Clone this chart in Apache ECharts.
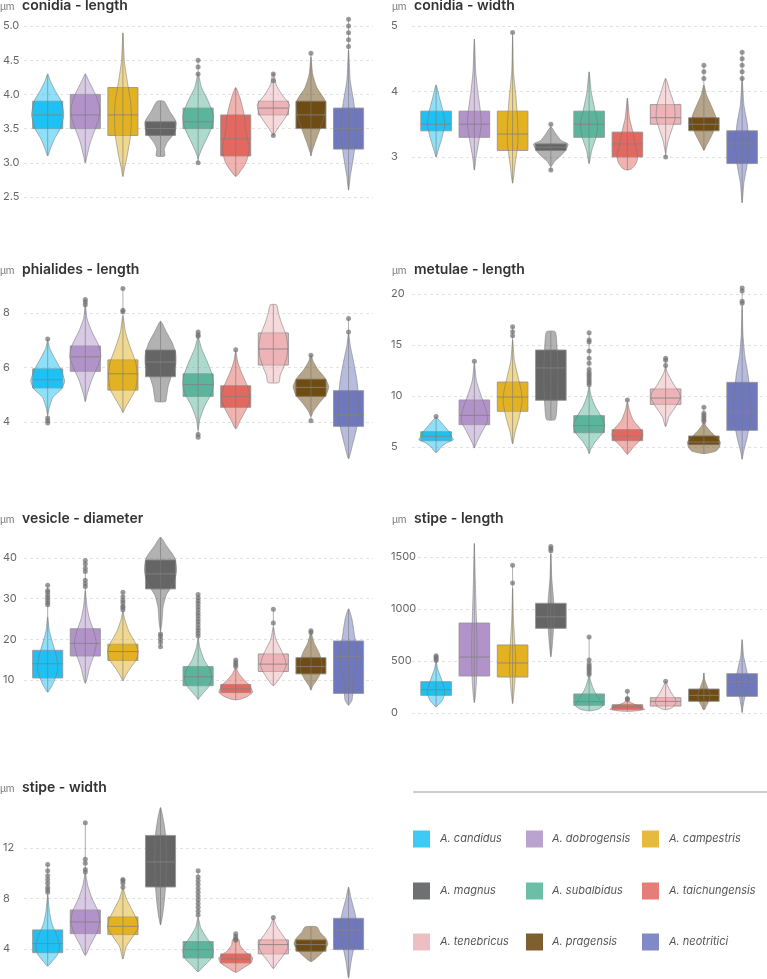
<!DOCTYPE html>
<html>
<head>
<meta charset="utf-8">
<script src="https://cdn.jsdelivr.net/npm/echarts@6/dist/echarts.min.js"></script>
<style>
  html, body { margin: 0; padding: 0; background: #fff; }
  #chart { width: 767px; height: 979px; }
</style>
</head>
<body>
<div id="chart"></div>
<script>
// species and colours
const species = ['A. candidus', 'A. dobrogensis', 'A. campestris', 'A. magnus', 'A. subalbidus',
  'A. taichungensis', 'A. tenebricus', 'A. pragensis', 'A. neotritici'];
const boxColors = ['#1ec1f3', '#b293c9', '#e3b223', '#656565', '#5ab59c', '#e26860', '#edb3b7', '#6e4c14', '#6f78bd'];
const legendColors = ['#3fcaf5', '#bba3d0', '#e6ba3c', '#6f7072', '#6cbfa6', '#e57d78', '#eebfc2', '#7e5f2f', '#808ac6'];

// box = [q1, median, q3]; violin = [value, relative width]; outliers = values
// conidia - length
const clBox = [[3.5, 3.7, 3.9], [3.5, 3.7, 4.0], [3.4, 3.7, 4.1], [3.4, 3.5, 3.6], [3.5, 3.6, 3.8],
  [3.1, 3.35, 3.7], [3.7, 3.8, 3.9], [3.5, 3.7, 3.9], [3.2, 3.5, 3.8]];
const clViolin = [
  [[4.3, 0], [4.2, 0.15], [4.05, 0.45], [3.9, 0.8], [3.7, 0.95], [3.5, 0.75], [3.35, 0.4], [3.2, 0.15], [3.1, 0]],
  [[4.3, 0], [4.2, 0.2], [4.0, 0.6], [3.8, 0.85], [3.65, 0.8], [3.5, 0.6], [3.3, 0.3], [3.1, 0.1], [3.0, 0]],
  [[4.9, 0], [4.5, 0.08], [4.2, 0.25], [3.9, 0.45], [3.7, 0.5], [3.4, 0.45], [3.1, 0.25], [2.9, 0.08], [2.8, 0]],
  [[3.9, 0.2], [3.75, 0.55], [3.6, 0.92], [3.45, 0.85], [3.3, 0.4], [3.2, 0.22], [3.1, 0.25]],
  [[4.3, 0], [4.1, 0.2], [3.9, 0.6], [3.7, 0.9], [3.55, 0.85], [3.4, 0.6], [3.25, 0.3], [3.1, 0.05], [3.05, 0]],
  [[4.1, 0], [3.95, 0.25], [3.7, 0.5], [3.45, 0.6], [3.2, 0.8], [3.0, 0.6], [2.85, 0.2], [2.8, 0]],
  [[4.3, 0.05], [4.15, 0.15], [4.0, 0.5], [3.85, 0.95], [3.7, 0.8], [3.55, 0.4], [3.45, 0.12], [3.4, 0]],
  [[4.55, 0], [4.3, 0.1], [4.1, 0.35], [3.9, 0.85], [3.7, 0.8], [3.5, 0.55], [3.3, 0.25], [3.15, 0.05], [3.1, 0]],
  [[4.65, 0], [4.2, 0.1], [3.9, 0.3], [3.6, 0.45], [3.4, 0.45], [3.1, 0.3], [2.8, 0.1], [2.6, 0]]
];
const clOut = [[], [], [], [], [4.5, 4.4, 4.3, 3.0], [], [4.3, 4.2, 3.4], [4.6], [5.1, 5.0, 4.9, 4.8, 4.7]];

// conidia - width
const cwBox = [[3.4, 3.5, 3.7], [3.3, 3.5, 3.7], [3.1, 3.35, 3.7], [3.1, 3.15, 3.2], [3.3, 3.5, 3.7],
  [3.0, 3.2, 3.38], [3.5, 3.6, 3.8], [3.4, 3.5, 3.6], [2.9, 3.2, 3.4]];
const cwViolin = [
  [[4.1, 0], [3.9, 0.2], [3.7, 0.4], [3.5, 0.5], [3.3, 0.35], [3.1, 0.12], [3.0, 0]],
  [[4.8, 0], [4.3, 0.08], [4.0, 0.2], [3.7, 0.35], [3.5, 0.4], [3.3, 0.3], [3.0, 0.1], [2.8, 0]],
  [[4.85, 0], [4.3, 0.05], [3.9, 0.2], [3.5, 0.3], [3.2, 0.3], [2.9, 0.15], [2.6, 0]],
  [[3.45, 0.05], [3.35, 0.3], [3.25, 0.6], [3.2, 1.0], [3.1, 0.85], [3.0, 0.5], [2.93, 0.2], [2.85, 0]],
  [[4.3, 0], [4.0, 0.12], [3.7, 0.35], [3.5, 0.5], [3.3, 0.4], [3.1, 0.15], [2.9, 0]],
  [[3.9, 0], [3.6, 0.12], [3.4, 0.3], [3.2, 0.45], [3.0, 0.6], [2.9, 0.5], [2.82, 0.25], [2.8, 0]],
  [[4.2, 0], [4.0, 0.25], [3.8, 0.5], [3.6, 0.55], [3.45, 0.4], [3.25, 0.15], [3.1, 0.04], [3.05, 0]],
  [[4.1, 0], [3.95, 0.15], [3.8, 0.4], [3.6, 0.7], [3.45, 0.65], [3.3, 0.4], [3.15, 0.1], [3.1, 0]],
  [[4.2, 0], [3.8, 0.1], [3.5, 0.3], [3.2, 0.4], [2.9, 0.3], [2.6, 0.1], [2.3, 0]]
];
const cwOut = [[], [], [4.9], [3.5, 2.8], [], [], [3.0], [4.4, 4.3, 4.2], [4.6, 4.5, 4.4, 4.3, 4.2]];

// phialides - length
const phBox = [[5.25, 5.55, 5.95], [5.86, 6.39, 6.79], [5.17, 5.77, 6.28], [5.66, 6.2, 6.64], [4.94, 5.37, 5.77],
  [4.54, 4.94, 5.33], [6.09, 6.68, 7.27], [4.94, 5.27, 5.57], [3.84, 4.27, 5.15]];
const phViolin = [
  [[7.0, 0], [6.7, 0.12], [6.3, 0.45], [5.9, 0.8], [5.5, 1.0], [5.2, 0.8], [4.9, 0.3], [4.5, 0.08], [4.25, 0]],
  [[8.3, 0], [7.8, 0.1], [7.3, 0.4], [6.8, 0.8], [6.4, 0.92], [6.0, 0.7], [5.5, 0.35], [5.0, 0.1], [4.75, 0]],
  [[7.9, 0], [7.3, 0.15], [6.8, 0.4], [6.2, 0.75], [5.7, 0.85], [5.2, 0.75], [4.8, 0.4], [4.5, 0.12], [4.35, 0]],
  [[7.7, 0], [7.3, 0.35], [6.9, 0.7], [6.5, 0.9], [6.1, 0.9], [5.7, 0.65], [5.3, 0.45], [4.9, 0.35], [4.75, 0.3]],
  [[7.1, 0], [6.7, 0.2], [6.2, 0.55], [5.7, 0.85], [5.35, 0.9], [5.0, 0.75], [4.6, 0.4], [4.1, 0.1], [3.7, 0]],
  [[6.6, 0], [6.2, 0.12], [5.8, 0.35], [5.3, 0.7], [4.9, 0.85], [4.5, 0.65], [4.1, 0.3], [3.75, 0]],
  [[8.3, 0.18], [8.0, 0.3], [7.6, 0.5], [7.2, 0.75], [6.8, 0.85], [6.4, 0.8], [6.0, 0.6], [5.7, 0.4], [5.45, 0.33]],
  [[6.45, 0], [6.2, 0.15], [5.9, 0.45], [5.6, 0.85], [5.3, 1.05], [5.0, 0.9], [4.7, 0.5], [4.4, 0.15], [4.2, 0]],
  [[7.25, 0], [6.8, 0.1], [6.2, 0.3], [5.5, 0.5], [4.8, 0.6], [4.2, 0.6], [3.7, 0.45], [3.2, 0.25], [2.65, 0]]
];
const phOut = [[7.05, 4.15, 4.05, 3.96], [8.5, 8.4, 8.3], [8.9, 8.1, 8.05], [], [7.3, 7.2, 7.15, 3.54, 3.44],
  [6.65], [], [6.45, 4.05], [7.8, 7.3]];

// metulae - length
const meBox = [[5.62, 6.05, 6.5], [7.19, 8.1, 9.61], [8.5, 9.9, 11.37], [9.58, 12.75, 14.51], [6.4, 7.1, 8.07],
  [5.62, 6.08, 6.7], [9.18, 9.8, 10.69], [5.23, 5.49, 6.08], [6.63, 8.5, 11.34]];
const meViolin = [
  [[7.9, 0], [7.5, 0.25], [7.0, 0.5], [6.5, 0.75], [6.0, 0.9], [5.7, 1.0], [5.4, 0.6], [5.0, 0.3], [4.45, 0]],
  [[13.2, 0], [11.5, 0.12], [10.0, 0.4], [8.5, 0.7], [7.5, 0.75], [6.5, 0.45], [5.5, 0.15], [4.9, 0]],
  [[15.5, 0], [13.5, 0.1], [12.0, 0.3], [10.5, 0.5], [9.5, 0.55], [8.0, 0.4], [6.5, 0.15], [5.3, 0]],
  [[16.3, 0.25], [15.0, 0.35], [13.0, 0.4], [11.0, 0.4], [9.0, 0.35], [7.7, 0.25]],
  [[10.9, 0], [10.0, 0.12], [9.0, 0.35], [8.0, 0.7], [7.1, 0.9], [6.3, 0.75], [5.5, 0.35], [4.8, 0.1], [4.35, 0]],
  [[9.4, 0], [8.6, 0.12], [7.6, 0.35], [6.8, 0.75], [6.2, 0.9], [5.6, 0.7], [5.0, 0.35], [4.3, 0]],
  [[12.9, 0], [12.3, 0.1], [11.2, 0.45], [10.3, 0.8], [9.8, 0.85], [9.0, 0.6], [8.0, 0.2], [7.0, 0]],
  [[7.4, 0], [7.0, 0.15], [6.5, 0.4], [6.0, 0.7], [5.5, 0.95], [5.0, 0.9], [4.6, 0.7], [4.35, 0]],
  [[18.8, 0], [16.0, 0.05], [14.0, 0.15], [12.0, 0.35], [10.0, 0.45], [8.0, 0.5], [6.0, 0.3], [4.5, 0.08], [3.8, 0]]
];
const meOut = [[8.0], [13.4], [16.8, 16.3, 15.9], [],
  [16.2, 15.5, 15.3, 14.4, 13.7, 13.2, 12.6, 12.3, 12.1, 11.9, 11.7, 11.5, 11.3, 11.1],
  [9.6], [13.7, 13.5, 13.0], [8.9, 8.3, 8.1, 7.9, 7.7, 7.5], [20.6, 20.3, 19.3, 19.1]];

// vesicle - diameter
const veBox = [[10.5, 14.0, 17.3], [15.9, 19.0, 22.6], [14.8, 17.0, 18.8], [32.4, 36.1, 39.5], [8.6, 10.8, 13.3],
  [6.9, 7.8, 8.9], [12.1, 13.9, 16.4], [11.5, 13.3, 15.5], [6.7, 15.8, 19.6]];
const veViolin = [
  [[25.5, 0], [22, 0.1], [19, 0.3], [16, 0.5], [13, 0.6], [11, 0.5], [9, 0.3], [7.5, 0.1], [7, 0]],
  [[32, 0], [28, 0.1], [25, 0.25], [22, 0.5], [19, 0.65], [16, 0.5], [13, 0.25], [10, 0.08], [9.2, 0]],
  [[27, 0], [25, 0.1], [22, 0.35], [19, 0.75], [17, 0.9], [15, 0.8], [13, 0.45], [11, 0.15], [9.8, 0]],
  [[45, 0.05], [43, 0.35], [40, 0.85], [37, 0.95], [34, 0.8], [31, 0.35], [28, 0.15], [24, 0.08], [22, 0]],
  [[20.3, 0], [18, 0.1], [15, 0.35], [12.5, 0.7], [10.5, 0.8], [8.5, 0.65], [7, 0.35], [5.8, 0.1], [5.2, 0]],
  [[13, 0], [11.5, 0.2], [10, 0.5], [9, 0.75], [8, 0.9], [7, 1.0], [6, 0.7], [5.3, 0.3], [5.1, 0]],
  [[23, 0], [20, 0.15], [17.5, 0.45], [15, 0.7], [13.5, 0.75], [12, 0.6], [10, 0.3], [8.6, 0]],
  [[21.5, 0], [19, 0.2], [16.5, 0.5], [14, 0.65], [12, 0.6], [10, 0.35], [8.5, 0.1], [7.5, 0]],
  [[27.5, 0], [25, 0.2], [21, 0.35], [17, 0.5], [13, 0.45], [10, 0.25], [7, 0.25], [5, 0.2], [3.8, 0]]
];
const veOut = [[33.3, 32.0, 31.5, 30.8, 30.2, 29.6, 29.0, 28.5], [39.4, 38.5, 37.5, 36.7, 34.5, 33.7, 33.0],
  [31.6, 30.5, 29.6, 29.0, 28.2, 27.8, 27.3], [21.3, 20.8, 20.0, 19.2, 18.2],
  [31.0, 30.2, 29.5, 28.8, 28.0, 27.3, 26.5, 25.8, 25.0, 24.3, 23.6, 22.8, 22.2, 21.5, 20.8],
  [14.9, 14.3, 13.8, 13.3], [27.4, 24.0], [22.1, 21.7], []];

// stipe - length
const slBox = [[170, 224, 301], [356, 538, 865], [346, 481, 654], [814, 925, 1055], [74, 109, 183],
  [35, 58, 80], [67, 112, 147], [112, 170, 231], [160, 301, 378]];
const slViolin = [
  [[490, 0], [420, 0.1], [330, 0.3], [250, 0.45], [180, 0.5], [120, 0.35], [80, 0.15], [60, 0]],
  [[1630, 0], [1300, 0.05], [1000, 0.1], [700, 0.15], [500, 0.15], [300, 0.12], [150, 0.05], [100, 0]],
  [[1200, 0], [900, 0.05], [700, 0.12], [500, 0.18], [350, 0.15], [200, 0.08], [90, 0]],
  [[1530, 0], [1300, 0.05], [1100, 0.15], [950, 0.2], [800, 0.15], [650, 0.08], [540, 0]],
  [[360, 0], [300, 0.1], [230, 0.25], [170, 0.45], [120, 0.65], [70, 0.8], [35, 0.5], [20, 0]],
  [[130, 0], [100, 0.2], [75, 0.55], [50, 0.9], [35, 1.0], [22, 0.6], [16, 0]],
  [[300, 0], [250, 0.15], [190, 0.35], [140, 0.55], [100, 0.6], [60, 0.45], [38, 0.2], [32, 0]],
  [[385, 0], [320, 0.05], [250, 0.2], [180, 0.35], [120, 0.3], [70, 0.15], [35, 0.05], [32, 0]],
  [[705, 0], [550, 0.08], [420, 0.25], [320, 0.35], [230, 0.3], [150, 0.15], [60, 0.05], [5, 0]]
];
const slOut = [[550, 535, 520, 505], [], [1420, 1250], [1600, 1580, 1560], [730, 510, 470, 450, 430, 410, 390, 370],
  [210, 140, 130], [305], [], []];

// stipe - width
const swBox = [[3.71, 4.43, 5.51], [5.22, 6.14, 7.09], [5.14, 5.8, 6.54], [8.91, 10.9, 13.0], [3.29, 3.95, 4.59],
  [2.9, 3.21, 3.61], [3.61, 4.35, 4.72], [3.82, 4.35, 4.72], [3.95, 5.5, 6.43]];
const swViolin = [
  [[8.3, 0], [7.0, 0.1], [6.0, 0.25], [5.2, 0.5], [4.3, 0.7], [3.6, 0.6], [3.0, 0.25], [2.65, 0]],
  [[10, 0], [9, 0.15], [8, 0.4], [7, 0.75], [6.1, 0.85], [5.2, 0.65], [4.3, 0.3], [3.5, 0]],
  [[8.8, 0], [8.0, 0.2], [7.2, 0.5], [6.4, 0.8], [5.7, 0.9], [5.0, 0.6], [4.2, 0.2], [3.2, 0]],
  [[15.2, 0], [14, 0.2], [13, 0.3], [11, 0.35], [9, 0.3], [7.5, 0.2], [6.5, 0.1], [5.9, 0]],
  [[6.5, 0], [5.7, 0.15], [5.0, 0.45], [4.3, 0.8], [3.8, 0.9], [3.2, 0.75], [2.6, 0.3], [2.2, 0]],
  [[5.0, 0], [4.7, 0.2], [4.3, 0.25], [3.8, 0.55], [3.3, 1.0], [2.9, 0.9], [2.5, 0.45], [2.15, 0]],
  [[6.4, 0], [5.8, 0.2], [5.2, 0.5], [4.6, 0.8], [4.1, 0.85], [3.5, 0.6], [2.9, 0.25], [2.45, 0]],
  [[5.75, 0.35], [5.3, 0.55], [4.8, 0.9], [4.4, 1.0], [4.0, 0.85], [3.5, 0.5], [3.0, 0]],
  [[8.9, 0], [8, 0.15], [7, 0.35], [6, 0.5], [5, 0.45], [4, 0.3], [3, 0.15], [1.7, 0]]
];
const swOut = [[10.7, 10.2, 9.8, 9.5, 9.2, 8.9, 8.7, 8.5], [14.0, 11.1, 10.8, 10.3, 10.1], [9.5, 9.4, 9.2, 8.9], [],
  [10.2, 9.7, 9.4, 9.1, 8.8, 8.5, 8.2, 7.9, 7.6, 7.3, 7.0, 6.7], [5.2, 5.0, 4.8, 4.7], [6.5], [], []];

const panels = [
  { title: 'conidia - length', box: clBox, violin: clViolin, out: clOut, y: [2.5, 5, 0.5], dec: 1, col: 0, top: 26, height: 171, ty: 6 },
  { title: 'conidia - width', box: cwBox, violin: cwViolin, out: cwOut, y: [3, 5, 1], dec: 0, col: 1, top: 26, height: 131, ty: 6 },
  { title: 'phialides - length', box: phBox, violin: phViolin, out: phOut, y: [4, 8, 2], dec: 0, col: 0, top: 313, height: 109, ty: 270 },
  { title: 'metulae - length', box: meBox, violin: meViolin, out: meOut, y: [5, 20, 5], dec: 0, col: 1, top: 294, height: 153, ty: 270 },
  { title: 'vesicle - diameter', box: veBox, violin: veViolin, out: veOut, y: [10, 40, 10], dec: 0, col: 0, top: 558, height: 122, ty: 519 },
  { title: 'stipe - length', box: slBox, violin: slViolin, out: slOut, y: [0, 1500, 500], dec: 0, col: 1, top: 557, height: 156, ty: 519 },
  { title: 'stipe - width', box: swBox, violin: swViolin, out: swOut, y: [4, 12, 4], dec: 0, col: 0, top: 848, height: 101, ty: 788 }
];

const FONT = 'Inter, "Noto Sans", sans-serif';

function rgba(hex, a) {
  const n = parseInt(hex.slice(1), 16);
  return 'rgba(' + (n >> 16 & 255) + ',' + (n >> 8 & 255) + ',' + (n & 255) + ',' + a + ')';
}

function makeRender(p) {
  return function (params, api) {
    const i = api.value(0);
    const cx = api.coord([i, 0])[0];
    const unit = api.size([1, 0])[0];
    const y = v => api.coord([i, v])[1];
    const col = boxColors[i];
    const b = p.box[i];
    const vio = p.violin[i];
    const bw = 0.4 * unit, vw = 0.45 * unit;
    const right = vio.map(d => [cx + d[1] * vw, y(d[0])]);
    const left = vio.filter(d => d[1] > 0).reverse().map(d => [cx - d[1] * vw, y(d[0])]);
    const vals = vio.map(d => d[0]).concat(p.out[i]);
    const hi = Math.max.apply(null, vals), lo = Math.min.apply(null, vals);
    return {
      type: 'group',
      children: [
        { type: 'rect', shape: { x: cx - bw, y: y(b[2]), width: 2 * bw, height: y(b[0]) - y(b[2]) },
          style: { fill: col, stroke: 'rgba(150,150,150,0.9)', lineWidth: 1 } },
        { type: 'polygon', shape: { points: right.concat(left), smooth: 0.2 },
          style: { fill: rgba(col, 0.5), stroke: 'rgba(120,120,120,0.55)', lineWidth: 1 } },
        { type: 'line', shape: { x1: cx, y1: y(hi), x2: cx, y2: y(lo) },
          style: { stroke: 'rgba(120,120,120,0.6)', lineWidth: 1 } },
        { type: 'line', shape: { x1: cx - bw, y1: y(b[1]), x2: cx + bw, y2: y(b[1]) },
          style: { stroke: 'rgba(130,130,130,0.85)', lineWidth: 1 } }
      ]
    };
  };
}

const grids = [], xAxes = [], yAxes = [], series = [], graphics = [];
panels.forEach((p, k) => {
  grids.push({ left: p.col ? 412 : 20, width: p.col ? 355 : 353, top: p.top, height: p.height, containLabel: false });
  xAxes.push({ type: 'value', gridIndex: k, min: -0.63, max: 8.65, show: false });
  yAxes.push({
    type: 'value', gridIndex: k, min: p.y[0], max: p.y[1], interval: p.y[2],
    axisLine: { show: false }, axisTick: { show: false },
    splitLine: { lineStyle: { color: '#e2e2e2', type: [3, 3] } },
    axisLabel: { align: 'left', margin: 21, color: '#666', fontSize: 11, fontFamily: FONT,
      formatter: v => v.toFixed(p.dec) }
  });
  series.push({
    type: 'custom', xAxisIndex: k, yAxisIndex: k, clip: false,
    data: species.map((s, i) => [i, p.box[i][1]]),
    renderItem: makeRender(p)
  });
  const pts = [];
  p.out.forEach((arr, i) => arr.forEach(v => pts.push([i, v])));
  series.push({
    type: 'scatter', xAxisIndex: k, yAxisIndex: k, clip: false, z: 3,
    symbolSize: 5, itemStyle: { color: 'rgba(115,115,115,0.9)' }, data: pts
  });
  const x0 = p.col ? 392 : 0;
  graphics.push({ type: 'text', x: x0, y: p.ty + 1, style: { text: 'μm', fontSize: 10, fill: '#777', fontFamily: FONT, verticalAlign: 'middle' } });
  graphics.push({ type: 'text', x: x0 + 22, y: p.ty, style: { text: p.title, fontSize: 14, fontWeight: 600, fill: '#333', fontFamily: FONT, verticalAlign: 'middle' } });
});

// legend
graphics.push({ type: 'line', shape: { x1: 413, y1: 792, x2: 767, y2: 792 }, style: { stroke: '#999', lineWidth: 1 } });
const legX = [413, 526, 642], legTextX = [440, 552, 669], legY = [839, 891, 942];
species.forEach((s, i) => {
  const c = i % 3, r = Math.floor(i / 3);
  graphics.push({ type: 'rect', shape: { x: legX[c], y: legY[r] - 8.5, width: 17, height: 17 }, style: { fill: legendColors[i] } });
  graphics.push({ type: 'text', x: legTextX[c], y: legY[r], style: { text: s, fontSize: 11, fontStyle: 'italic', fill: '#555', fontFamily: FONT, verticalAlign: 'middle' } });
});

const chart = echarts.init(document.getElementById('chart'));
chart.setOption({
  animation: false,
  grid: grids,
  xAxis: xAxes,
  yAxis: yAxes,
  series: series,
  graphic: graphics
});
</script>
</body>
</html>
